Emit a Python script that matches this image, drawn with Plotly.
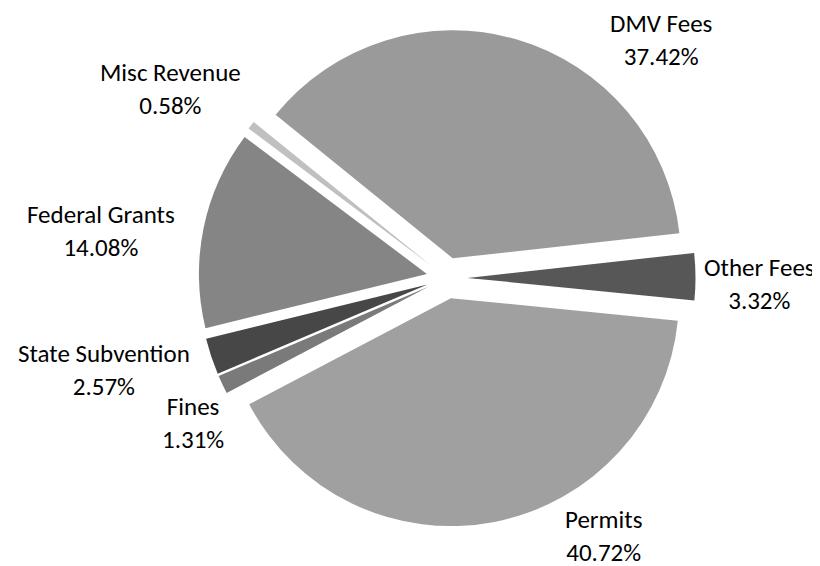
import plotly.graph_objects as go

labels = ["DMV Fees", "Other Fees", "Permits", "Fines", "State Subvention", "Federal Grants", "Misc Revenue"]
values = [37.42, 3.32, 40.72, 1.31, 2.57, 14.08, 0.58]
colors = ["#9a9a9a", "#575757", "#a0a0a0", "#7a7a7a", "#474747", "#858585", "#c0c0c0"]

W, H = 820, 566
OFF = 8  # page body margin offset
# label block centres in page pixels (Excel-style placement)
label_pos = [(661, 40), (759, 284), (603, 536), (193, 423), (104, 370), (101, 231), (170, 89)]

FONT = "Calibri, Carlito, Lato, sans-serif"

def px2paper(px, py):
    return (px - OFF) / W, 1 - (py - OFF) / H

CX, CY, HALF = 447, 278, 248.5
x0, y0 = px2paper(CX - HALF, CY + HALF)
x1, y1 = px2paper(CX + HALF, CY - HALF)

fig = go.Figure(go.Pie(
    labels=labels,
    values=values,
    sort=False,
    direction="clockwise",
    rotation=-51,
    pull=0.09,
    marker=dict(colors=colors, line=dict(width=0)),
    textinfo="none",
    showlegend=False,
    domain=dict(x=[x0, x1], y=[y0, y1]),
    hoverinfo="label+percent",
))

for lab, val, (px, py) in zip(labels, values, label_pos):
    ax, ay = px2paper(px, py)
    fig.add_annotation(
        x=ax, y=ay, xref="paper", yref="paper",
        text=f"{lab}<br>{val:.2f}%", showarrow=False,
        xanchor="center", yanchor="middle", align="center",
        font=dict(family=FONT, size=25, color="#000000"),
    )

fig.update_layout(
    width=W, height=H,
    margin=dict(l=0, r=0, t=0, b=0),
    paper_bgcolor="white", plot_bgcolor="white",
)

fig.write_html("out.html")
